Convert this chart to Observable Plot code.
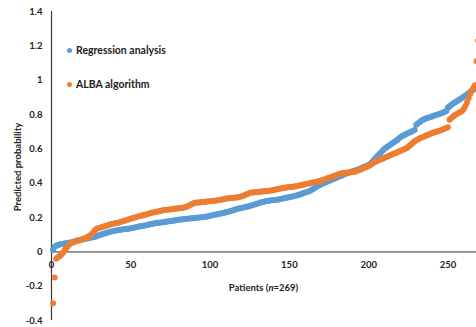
<!DOCTYPE html>
<html>
<head>
<meta charset="utf-8">
<script src="https://cdn.jsdelivr.net/npm/d3@7"></script>
<script src="https://cdn.jsdelivr.net/npm/@observablehq/plot@0.6"></script>
<style>
  html, body { margin: 0; padding: 0; background: #fff; }
  #wrap { position: relative; width: 476px; height: 327px; overflow: hidden; font-family: Lato, "Open Sans", sans-serif; color: #222; }
  #wrap svg { display: block; position: absolute; left: 0; top: 0; }
  .lg { position: absolute; left: 67px; font-weight: bold; font-size: 10.5px; line-height: 12px; white-space: nowrap; }
  .lg i { display: inline-block; width: 5px; height: 5px; border-radius: 50%; margin-right: 4px; vertical-align: 1px; }
  #xlab { position: absolute; left: 0; width: 527px; top: 282px; text-align: center; font-weight: bold; font-size: 9.5px; }
  #ylab { position: absolute; left: 17px; top: 167px; transform: translate(-50%, -50%) rotate(-90deg); font-weight: bold; font-size: 9.5px; white-space: nowrap; }
</style>
</head>
<body>
<div id="wrap">
  <div class="lg" style="top:44px"><i style="background:#5B9BD5"></i>Regression analysis</div>
  <div class="lg" style="top:78px"><i style="background:#ED7D31"></i>ALBA algorithm</div>
  <div id="xlab">Patients (<i>n</i>=269)</div>
  <div id="ylab">Predicted probability</div>
</div>
<script>
const seriesNames = ["Regression analysis", "ALBA algorithm"];
const xTicks = [0, 50, 100, 150, 200, 250];
const yTicks = [-0.4, -0.2, 0, 0.2, 0.4, 0.6, 0.8, 1, 1.2, 1.4];

// Predicted probability per patient (sorted), patients 1..269
const regression = [
  .010,.030,.036,.040,.042,.044,.046,.048,.050,.051,
  .053,.055,.057,.059,.061,.064,.067,.069,.071,.073,
  .075,.077,.079,.081,.083,.085,.087,.090,.093,.096,
  .099,.102,.105,.108,.111,.114,.117,.119,.121,.123,
  .125,.127,.128,.129,.131,.132,.133,.134,.135,.137,
  .139,.141,.143,.145,.147,.149,.151,.152,.154,.156,
  .158,.160,.162,.164,.166,.168,.169,.170,.171,.172,
  .173,.175,.176,.178,.179,.180,.182,.183,.185,.187,
  .188,.189,.190,.191,.192,.193,.194,.195,.196,.197,
  .198,.199,.200,.201,.202,.203,.204,.206,.208,.210,
  .212,.214,.216,.218,.220,.222,.224,.226,.228,.230,
  .232,.235,.238,.241,.244,.247,.250,.252,.254,.256,
  .258,.260,.262,.264,.267,.270,.273,.276,.279,.282,
  .285,.288,.290,.292,.294,.296,.298,.299,.300,.301,
  .302,.303,.305,.307,.309,.311,.313,.315,.317,.319,
  .321,.323,.325,.327,.330,.333,.336,.339,.342,.345,
  .348,.351,.355,.360,.366,.372,.378,.383,.388,.393,
  .397,.401,.405,.409,.413,.417,.421,.425,.429,.433,
  .437,.441,.445,.449,.453,.457,.460,.463,.466,.469,
  .472,.475,.478,.482,.486,.490,.494,.498,.502,.506,
  .512,.522,.532,.542,.552,.562,.572,.582,.592,.600,
  .607,.614,.620,.626,.632,.638,.645,.652,.660,.668,
  .673,.678,.683,.688,.692,.696,.700,.705,.710,.740,
  .748,.755,.762,.768,.773,.777,.780,.783,.786,.789,
  .792,.795,.798,.801,.804,.808,.812,.816,.820,.840,
  .848,.856,.862,.868,.874,.880,.886,.892,.898,.904,
  .910,.917,.924,.931,.938,.945,.952,.960,.968
];
const alba = [
  -.300,-.150,-.040,-.032,-.026,-.018,-.008,.005,.018,.030,
  .040,.048,.053,.057,.060,.063,.066,.069,.072,.075,
  .079,.083,.088,.094,.100,.110,.122,.132,.136,.139,
  .142,.144,.147,.150,.153,.156,.159,.162,.164,.166,
  .168,.170,.172,.175,.178,.181,.184,.187,.190,.193,
  .196,.199,.202,.205,.207,.209,.211,.213,.216,.219,
  .222,.225,.227,.229,.231,.233,.235,.237,.239,.241,
  .243,.244,.245,.246,.247,.249,.250,.251,.252,.254,
  .255,.256,.257,.259,.262,.266,.271,.276,.280,.284,
  .286,.287,.288,.289,.290,.291,.292,.293,.294,.295,
  .296,.297,.298,.299,.300,.302,.304,.306,.308,.310,
  .311,.312,.313,.314,.315,.316,.317,.319,.321,.324,
  .327,.331,.335,.339,.342,.345,.346,.347,.348,.349,
  .350,.351,.352,.353,.354,.355,.356,.357,.358,.360,
  .362,.364,.366,.368,.370,.372,.374,.375,.376,.377,
  .378,.379,.380,.382,.384,.386,.388,.390,.392,.394,
  .396,.398,.400,.402,.404,.406,.408,.410,.413,.416,
  .419,.422,.425,.428,.431,.434,.437,.440,.444,.448,
  .452,.455,.457,.459,.460,.461,.462,.463,.464,.465,
  .466,.468,.472,.476,.480,.484,.488,.492,.496,.500,
  .506,.512,.518,.523,.528,.532,.536,.540,.544,.548,
  .552,.556,.560,.564,.568,.572,.576,.580,.584,.588,
  .592,.596,.600,.605,.612,.620,.628,.636,.644,.650,
  .655,.660,.664,.668,.672,.676,.680,.684,.688,.692,
  .695,.698,.701,.704,.707,.710,.714,.718,.722,.726,
  .770,.778,.786,.794,.800,.805,.810,.815,.822,.832,
  .850,.870,.895,.920,.940,.955,.970,1.110,1.230
];
const colors = ["#5B9BD5", "#ED7D31"];

const toRows = (vals, name) => vals.map((v, i) => ({patient: i + 1, value: v, series: name}));
const regRows = toRows(regression, seriesNames[0]);
const albaRows = toRows(alba, seriesNames[1]);
const fmt = d => String(+d.toFixed(1));

const chart = Plot.plot({
  width: 476,
  height: 327,
  marginLeft: 51,
  marginRight: 0,
  marginTop: 11,
  marginBottom: 7,
  x: {domain: [0, 268], axis: null},
  y: {domain: [-0.4, 1.4], axis: null},
  style: {fontFamily: "Lato, 'Open Sans', sans-serif", color: "#222", background: "transparent", overflow: "hidden"},
  marks: [
    Plot.ruleY([0], {stroke: "#8a8a8a", strokeWidth: 1.8}),
    Plot.ruleX([0], {stroke: "#3a3a3a", strokeWidth: 1.2}),
    Plot.text(yTicks, {x: 0, y: d => d, dx: -9, textAnchor: "end", text: fmt, fontSize: 9.5, fontWeight: "bold", fill: "#222"}),
    Plot.text(xTicks, {x: d => d, y: 0, dy: 13, text: d => String(d), fontSize: 9.5, fontWeight: "bold", fill: "#222"}),
    Plot.dot(regRows, {x: "patient", y: "value", r: 3, fill: colors[0], stroke: "none"}),
    Plot.dot(albaRows, {x: "patient", y: "value", r: 3, fill: colors[1], stroke: "none"})
  ]
});
document.getElementById("wrap").prepend(chart);
</script>
</body>
</html>
